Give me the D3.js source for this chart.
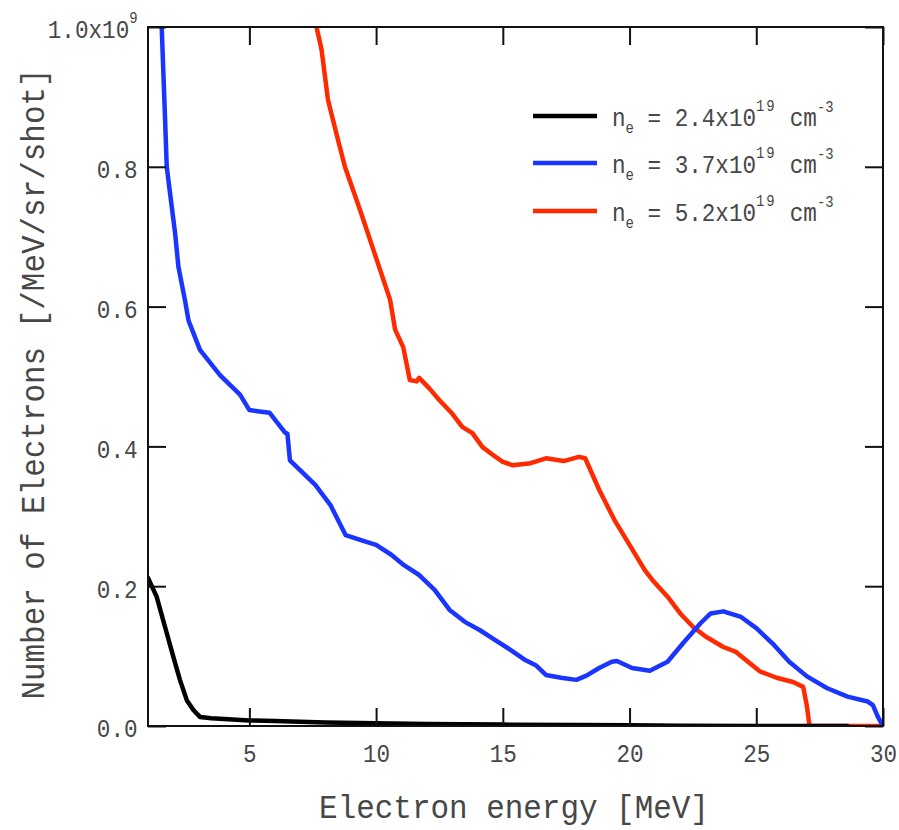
<!DOCTYPE html>
<html>
<head>
<meta charset="utf-8">
<script src="https://cdn.jsdelivr.net/npm/d3@7"></script>
<style>
  html, body { margin: 0; padding: 0; background: #fff; }
  svg { display: block; }
  text { font-family: "Liberation Mono", "Courier New", monospace; fill: #474747; }
</style>
</head>
<body>
<svg id="chart" width="899" height="830"></svg>
<script>
// Electron spectra for three plasma densities (values in units of 1e9 /MeV/sr/shot)
const energyLow = [1.0, 1.34, 1.67, 2.0, 2.26, 2.53, 2.79, 3.05, 3.5, 4.0, 5, 6, 8, 10, 12, 15, 18, 20, 22, 25, 28.6];
const countsLow = [0.212, 0.185, 0.142, 0.099, 0.066, 0.037, 0.023, 0.013, 0.011, 0.010, 0.008, 0.007, 0.005, 0.004, 0.003, 0.002, 0.0015, 0.001, 0.0005, 0.0, 0.0];

const energyMid = [1.54, 1.67, 1.74, 1.87, 2.07, 2.2, 2.46, 2.6, 3.05, 3.84, 4.63, 5.0, 5.4, 5.8, 6.4, 6.5, 6.6, 7.0, 7.6, 8.2, 8.8, 9.4, 10.0, 10.6, 11.1, 11.7, 12.3, 12.9, 13.5, 14.1, 14.7, 15.3, 15.9, 16.3, 16.7, 17.3, 17.9, 18.3, 18.8, 19.3, 19.5, 20.1, 20.8, 21.5, 22.1, 22.8, 23.2, 23.7, 24.4, 25.0, 25.7, 26.3, 27.0, 27.8, 28.6, 29.4, 29.6, 29.8, 30.0];
const countsMid = [1.0, 0.872, 0.80, 0.762, 0.705, 0.657, 0.609, 0.58, 0.538, 0.502, 0.474, 0.452, 0.45, 0.448, 0.42, 0.418, 0.38, 0.366, 0.345, 0.316, 0.273, 0.266, 0.259, 0.245, 0.230, 0.216, 0.195, 0.166, 0.149, 0.137, 0.123, 0.109, 0.094, 0.087, 0.073, 0.069, 0.066, 0.072, 0.083, 0.092, 0.093, 0.083, 0.079, 0.092, 0.118, 0.147, 0.161, 0.164, 0.156, 0.140, 0.116, 0.092, 0.071, 0.054, 0.042, 0.035, 0.03, 0.013, 0];

const energyHigh = [7.65, 7.85, 8.1, 8.5, 8.77, 9.37, 9.96, 10.55, 10.75, 11.07, 11.33, 11.6, 11.7, 12.1, 12.5, 13.0, 13.4, 13.8, 14.2, 14.6, 15.0, 15.4, 16.1, 16.7, 17.4, 18.0, 18.25, 18.8, 19.4, 20.0, 20.6, 20.9, 21.5, 22.0, 22.5, 23.0, 23.7, 24.2, 24.6, 25.15, 25.8, 26.45, 26.85, 27.0, 27.1, 30.0];
const countsHigh = [1.0, 0.967, 0.896, 0.838, 0.80, 0.738, 0.674, 0.61, 0.567, 0.542, 0.495, 0.493, 0.498, 0.483, 0.466, 0.447, 0.428, 0.419, 0.399, 0.388, 0.378, 0.373, 0.376, 0.383, 0.379, 0.385, 0.383, 0.338, 0.295, 0.259, 0.223, 0.209, 0.185, 0.161, 0.142, 0.128, 0.113, 0.106, 0.094, 0.078, 0.069, 0.063, 0.056, 0.028, 0, 0];

const densityLabels = ["2.4", "3.7", "5.2"];
const seriesColors = ["#000000", "#1a35ff", "#ff2a00"];

const xTicks = [5, 10, 15, 20, 25, 30];
const yTicks = [0, 0.2, 0.4, 0.6, 0.8, 1.0];

const xTitle = "Electron energy [MeV]";
const yTitle = "Number of Electrons [/MeV/sr/shot]";

const svg = d3.select("#chart");
const plotL = 148, plotR = 883, plotT = 27, plotB = 726;

const x = d3.scaleLinear().domain([1, 30]).range([plotL, plotR]);
const y = d3.scaleLinear().domain([0, 1]).range([plotB, plotT]);

// narrow glyph width used throughout the figure's lettering
const tickSX = 0.87, titleSX = 0.91;

svg.append("clipPath").attr("id", "plotclip")
  .append("rect").attr("x", plotL).attr("y", plotT)
  .attr("width", plotR - plotL).attr("height", plotB - plotT);

const series = [
  { e: energyLow, v: countsLow, color: seriesColors[0], label: densityLabels[0] },
  { e: energyMid, v: countsMid, color: seriesColors[1], label: densityLabels[1] },
  { e: energyHigh, v: countsHigh, color: seriesColors[2], label: densityLabels[2] }
];

const line = d3.line().x(d => x(d[0])).y(d => y(d[1]));

// curves: high density first so the others sit on top
const curves = svg.append("g").attr("clip-path", "url(#plotclip)");
[2, 1, 0].forEach(i => {
  const s = series[i];
  curves.append("path")
    .datum(s.e.map((e, k) => [e, s.v[k]]))
    .attr("d", line)
    .attr("fill", "none")
    .attr("stroke", s.color)
    .attr("stroke-width", 4.5)
    .attr("stroke-linejoin", "round")
    .attr("stroke-linecap", "round");
});

// frame
svg.append("rect")
  .attr("x", plotL).attr("y", plotT)
  .attr("width", plotR - plotL).attr("height", plotB - plotT)
  .attr("fill", "none").attr("stroke", "#111").attr("stroke-width", 2);

const tickLen = 18;

// bottom axis with inward ticks and labels
const xAxis = svg.append("g").attr("transform", `translate(0,${plotB})`)
  .call(d3.axisBottom(x).tickValues(xTicks).tickSizeInner(-tickLen).tickSizeOuter(0).tickPadding(18)
    .tickFormat(d3.format("d")));
xAxis.select(".domain").remove();
xAxis.selectAll("line").attr("stroke", "#111").attr("stroke-width", 2);
xAxis.selectAll("text")
  .attr("font-size", 26)
  .attr("fill", "#474747")
  .attr("transform", `scale(${tickSX},1)`);

// top ticks mirror the bottom ones
const xTop = svg.append("g").attr("transform", `translate(0,${plotT})`)
  .call(d3.axisTop(x).tickValues(xTicks).tickSizeInner(-tickLen).tickSizeOuter(0).tickFormat(""));
xTop.select(".domain").remove();
xTop.selectAll("line").attr("stroke", "#111").attr("stroke-width", 2);

// left axis
const yAxis = svg.append("g").attr("transform", `translate(${plotL},0)`)
  .call(d3.axisLeft(y).tickValues(yTicks).tickSizeInner(-tickLen).tickSizeOuter(0).tickPadding(12)
    .tickFormat(d3.format(".1f")));
yAxis.select(".domain").remove();
yAxis.selectAll("line").attr("stroke", "#111").attr("stroke-width", 2);
yAxis.selectAll("text")
  .attr("font-size", 26)
  .attr("fill", "#474747")
  .attr("dy", "0.42em")
  .attr("transform", `scale(${tickSX},1)`);
// top label carries the 10^9 scale factor
yAxis.selectAll("text").filter(d => d === 1.0)
  .text(null)
  .call(t => {
    t.append("tspan").text("1.0x10");
    t.append("tspan").attr("font-size", 16).attr("dy", "-0.95em").text("9");
  });

// right ticks
const yRight = svg.append("g").attr("transform", `translate(${plotR},0)`)
  .call(d3.axisRight(y).tickValues(yTicks).tickSizeInner(-tickLen).tickSizeOuter(0).tickFormat(""));
yRight.select(".domain").remove();
yRight.selectAll("line").attr("stroke", "#111").attr("stroke-width", 2);

// axis titles
svg.append("text")
  .attr("transform", `translate(514,818) scale(${titleSX},1)`)
  .attr("text-anchor", "middle")
  .attr("font-size", 34)
  .text(xTitle);

svg.append("text")
  .attr("transform", `translate(44,384) rotate(-90) scale(${titleSX},1)`)
  .attr("text-anchor", "middle")
  .attr("font-size", 34)
  .text(yTitle);

// legend
const legend = svg.append("g");
const legendY = [116, 163, 211];
series.forEach((s, i) => {
  const ly = legendY[i];
  legend.append("line")
    .attr("x1", 533).attr("x2", 597)
    .attr("y1", ly).attr("y2", ly)
    .attr("stroke", s.color).attr("stroke-width", 4.5);
  const t = legend.append("text")
    .attr("transform", `translate(612,${ly + 10}) scale(${tickSX},1)`)
    .attr("font-size", 26);
  t.append("tspan").text("n");
  t.append("tspan").attr("font-size", 16).attr("dy", 7).text("e");
  t.append("tspan").attr("dy", -7).text(` = ${s.label}x10`);
  t.append("tspan").attr("font-size", 16).attr("dy", -15).attr("letter-spacing", 2).text("19");
  t.append("tspan").attr("dy", 15).text(" cm");
  t.append("tspan").attr("font-size", 16).attr("dy", -14).text("-3");
});
</script>
</body>
</html>
